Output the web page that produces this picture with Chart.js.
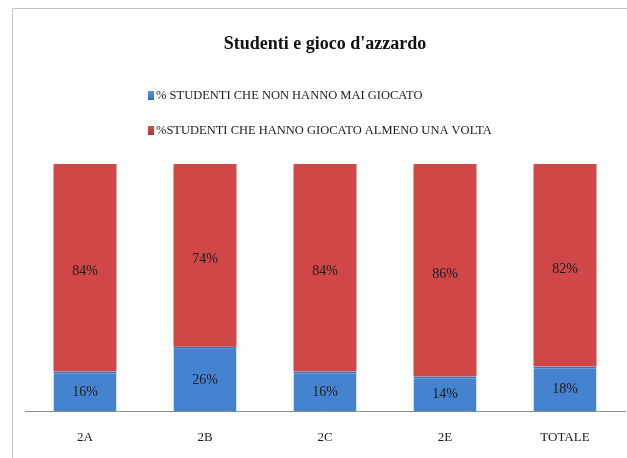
<!DOCTYPE html>
<html>
<head>
<meta charset="utf-8">
<script src="https://cdn.jsdelivr.net/npm/chart.js@4"></script>
<style>
  html, body { margin: 0; padding: 0; background: #fff; }
  #wrap { width: 627px; height: 458px; position: relative; }
</style>
</head>
<body>
<div id="wrap"><canvas id="chart" width="627" height="458"></canvas></div>
<script>
// Chart data
const classi = ['2A', '2B', '2C', '2E', 'TOTALE'];
const maiGiocato = [16, 26, 16, 14, 18];
const giocatoAlmenoUnaVolta = [84, 74, 84, 86, 82];
const serieNomi = ['% STUDENTI CHE NON HANNO MAI GIOCATO', '%STUDENTI CHE HANNO GIOCATO ALMENO UNA VOLTA'];

const serif = "'Liberation Serif', 'Times New Roman', serif";

// gradient across the bar width, darker at the sides (Excel bevel look)
function barFill(edge, mid) {
    return function (ctx) {
        const el = ctx.element;
        if (!el || el.width === undefined) return mid;
        const c = ctx.chart.ctx;
        const x0 = el.x - el.width / 2;
        const g = c.createLinearGradient(x0, 0, x0 + el.width, 0);
        g.addColorStop(0, edge);
        g.addColorStop(0.08, mid);
        g.addColorStop(0.92, mid);
        g.addColorStop(1, edge);
        return g;
    };
}

// outer frame of the original picture
const framePlugin = {
    id: 'frame',
    beforeDraw(chart) {
        const c = chart.ctx;
        c.save();
        c.strokeStyle = '#c4c4c4';
        c.lineWidth = 1;
        c.beginPath();
        c.moveTo(12.5, 458);
        c.lineTo(12.5, 8.5);
        c.lineTo(627, 8.5);
        c.stroke();
        c.restore();
    }
};

// value labels in the middle of each segment
const valuePlugin = {
    id: 'values',
    afterDatasetsDraw(chart) {
        const c = chart.ctx;
        c.save();
        c.font = '14px ' + serif;
        c.fillStyle = '#1a1a1a';
        c.textAlign = 'center';
        c.textBaseline = 'middle';
        chart.data.datasets.forEach((ds, i) => {
            const meta = chart.getDatasetMeta(i);
            meta.data.forEach((bar, j) => {
                const off = i === 1 ? 4 : 1;
                c.fillText(ds.data[j] + '%', bar.x, (bar.y + bar.base) / 2 + off);
            });
        });
        c.restore();
    }
};

// vertical legend, left aligned under the title
const legendPlugin = {
    id: 'vlegend',
    afterDraw(chart) {
        const c = chart.ctx;
        const boxColors = [['#2f68b0', '#5a96dc'], ['#a8302f', '#d9504f']];
        const ys = [96, 131];
        c.save();
        c.font = '12.5px ' + serif;
        c.fillStyle = '#1a1a1a';
        c.textBaseline = 'middle';
        chart.data.datasets.forEach((ds, i) => {
            const y = ys[i];
            const g = c.createLinearGradient(0, y - 5, 0, y + 5);
            g.addColorStop(0, boxColors[i][1]);
            g.addColorStop(1, boxColors[i][0]);
            c.fillStyle = g;
            c.fillRect(148, y - 5, 6, 9);
            c.fillStyle = '#1a1a1a';
            c.fillText(ds.label, 156, y);
        });
        c.restore();
    }
};

new Chart(document.getElementById('chart'), {
    type: 'bar',
    data: {
        labels: classi,
        datasets: [{
            label: serieNomi[0],
            data: maiGiocato,
            backgroundColor: barFill('#2e66ab', '#4583d0'),
            borderColor: '#3a72b8',
            borderWidth: { top: 2 },
            borderSkipped: false
        }, {
            label: serieNomi[1],
            data: giocatoAlmenoUnaVolta,
            backgroundColor: barFill('#a63434', '#d04747'),
            borderColor: '#c84848',
            borderWidth: 0
        }]
    },
    options: {
        responsive: false,
        animation: false,
        layout: { padding: { left: 25, right: 2, top: 0, bottom: 0 } },
        datasets: {
            bar: { categoryPercentage: 1, barPercentage: 0.525 }
        },
        scales: {
            x: {
                stacked: true,
                grid: { display: false, drawTicks: false },
                border: { display: true, color: '#8c8c8c', width: 1 },
                ticks: { font: { family: serif, size: 13 }, color: '#1a1a1a', padding: 19 },
                afterFit(scale) { scale.height = 47; }
            },
            y: {
                stacked: true,
                display: false,
                min: 0,
                max: 100
            }
        },
        plugins: {
            legend: { display: false },
            tooltip: { enabled: false },
            title: {
                display: true,
                text: "Studenti e gioco d'azzardo",
                color: '#111',
                font: { family: serif, size: 18, weight: 'bold' },
                padding: { top: 34, bottom: 108.4 }
            }
        }
    },
    plugins: [framePlugin, valuePlugin, legendPlugin]
});
</script>
</body>
</html>
